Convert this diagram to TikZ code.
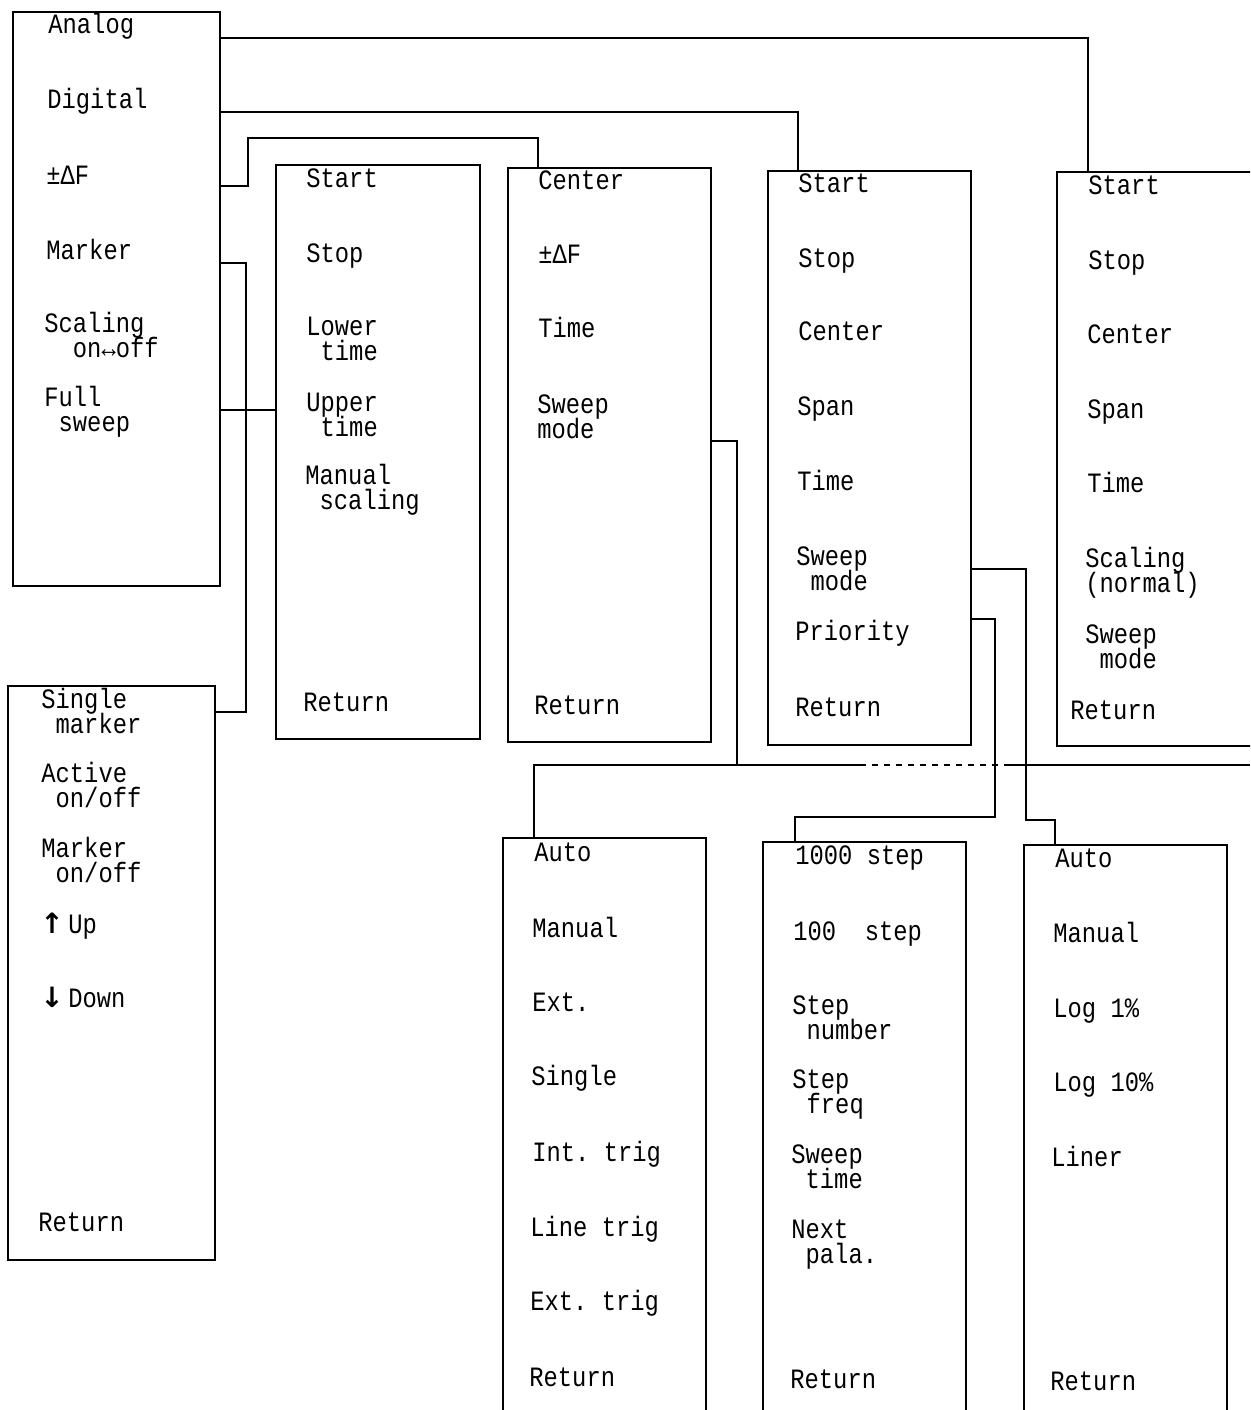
\documentclass[tikz,border=0pt]{standalone}
\usepackage{fontspec}
\setmainfont[FakeStretch=0.85]{Liberation Mono}
\newfontfamily\arrowfont{DejaVu Sans}
\usetikzlibrary{positioning}
\frenchspacing
\newcommand\ind{\hphantom{x}}
\newcommand\itemfont{\fontsize{14}{12.5}\selectfont\lineskiplimit=-20pt}
\tikzset{
  menu/.style={
    draw,
    line width=.6pt,
    inner sep=0pt,
    outer sep=0pt,
    anchor=north west,
    minimum width=101.5pt,
    minimum height=287pt
  },
  item/.style={
    anchor=base west,
    inner sep=0pt,
    align=left,
    font=\itemfont
  },
  twoline/.style={
    item,
    yshift=-12.5pt
  },
  link/.style={
    line width=.6pt
  }
}

\begin{document}
\begin{tikzpicture}[x=0.5pt,y=-0.5pt]
\useasboundingbox (0,0) rectangle (1250,1410);
\clip (0,0) rectangle (1250,1410);

% menu boxes
\node[menu, minimum width=103.5pt] (m1) at (13,12) {};
\node[menu, minimum width=103.5pt] (ms) at (8,686) {};
\node[menu, minimum width=102pt] (m2) at (276,165) {};
\node[menu] (m3) at (508,168) {};
\node[menu] (m4) at (768,171) {};
\node[menu, minimum width=150pt] (m5) at (1057,172) {};
\node[menu, minimum height=320pt] (m6) at (503,838) {};
\node[menu, minimum height=320pt] (m7) at (763,842) {};
\node[menu, minimum height=320pt] (m8) at (1024,845) {};

% main menu
\node[item] (a1) at (48,33) {Analog};
\node[item] (a2) at (47,108) {Digital};
\node[item] (a3) at (46,184) {±ΔF};
\node[item] (a4) at (46,259) {Marker};
\node[twoline] (a5) at (44,332) {Scaling\\\ind\ind on↔off};
\node[twoline] (a6) at (44,406) {Full\\\ind sweep};

% marker menu
\node[twoline] (s1) at (41,708) {Single\\\ind marker};
\node[twoline] (s2) at (41,782) {Active\\\ind on/off};
\node[twoline] (s3) at (41,857) {Marker\\\ind on/off};
\node[item] (s4) at (40,933) {\makebox[14pt][l]{\arrowfont\bfseries ↑}Up};
\node[item] (s5) at (40,1007) {\makebox[14pt][l]{\arrowfont\bfseries ↓}Down};
\node[item] (s6) at (38,1231) {Return};

% full sweep menu
\node[item] (b1) at (306,187) {Start};
\node[item] (b2) at (306,262) {Stop};
\node[twoline] (b3) at (306,335) {Lower\\\ind time};
\node[twoline] (b4) at (306,411) {Upper\\\ind time};
\node[twoline] (b5) at (305,484) {Manual\\\ind scaling};
\node[item] (b6) at (303,711) {Return};

% delta F menu
\node[item] (c1) at (538,189) {Center};
\node[item] (c2) at (538,263) {±ΔF};
\node[item] (c3) at (538,337) {Time};
\node[twoline] (c4) at (537,413) {Sweep\\mode};
\node[item] (c5) at (534,714) {Return};

% digital menu
\node[item] (d1) at (798,192) {Start};
\node[item] (d2) at (798,267) {Stop};
\node[item] (d3) at (798,340) {Center};
\node[item] (d4) at (797,415) {Span};
\node[item] (d5) at (797,490) {Time};
\node[twoline] (d6) at (796,565) {Sweep\\\ind mode};
\node[item] (d7) at (795,640) {Priority};
\node[item] (d8) at (795,716) {Return};

% analog menu
\node[item] (e1) at (1088,194) {Start};
\node[item] (e2) at (1088,269) {Stop};
\node[item] (e3) at (1087,343) {Center};
\node[item] (e4) at (1087,418) {Span};
\node[item] (e5) at (1087,492) {Time};
\node[twoline] (e6) at (1085,567) {Scaling\\(normal)};
\node[twoline] (e7) at (1085,643) {Sweep\\\ind mode};
\node[item] (e8) at (1070,719) {Return};

% sweep mode menu
\node[item] (f1) at (534,861) {Auto};
\node[item] (f2) at (532,937) {Manual};
\node[item] (f3) at (532,1011) {Ext.};
\node[item] (f4) at (531,1085) {Single};
\node[item] (f5) at (532,1161) {Int. trig};
\node[item] (f6) at (530,1236) {Line trig};
\node[item] (f7) at (530,1310) {Ext. trig};
\node[item] (f8) at (529,1386) {Return};

% priority menu
\node[item] (g1) at (795,864) {1000 step};
\node[item] (g2) at (793,940) {100~~step};
\node[twoline] (g3) at (792,1014) {Step\\\ind number};
\node[twoline] (g4) at (792,1088) {Step\\\ind freq};
\node[twoline] (g5) at (791,1163) {Sweep\\\ind time};
\node[twoline] (g6) at (791,1238) {Next\\\ind pala.};
\node[item] (g7) at (790,1388) {Return};

% digital sweep mode menu
\node[item] (h1) at (1055,867) {Auto};
\node[item] (h2) at (1053,942) {Manual};
\node[item] (h3) at (1053,1017) {Log 1\%};
\node[item] (h4) at (1053,1091) {Log 10\%};
\node[item] (h5) at (1051,1166) {Liner};
\node[item] (h6) at (1050,1390) {Return};

% connections
\draw[link] (m1.east |- 0,38) -| (m5.north -| e1.west);
\draw[link] (m1.east |- 0,112) -| (m4.north -| d1.west);
\draw[link] (m1.east |- 0,186) -| (248,138) -| (m3.north -| c1.west);
\draw[link] (m1.east |- 0,263) -| (246,712) -- (ms.east |- 0,712);
\draw[link] (m1.east |- 0,410) -- (m2.west |- 0,410);
\draw[link] (m3.east |- 0,441) -| (737,765);
\draw[link] (m6.north -| f1.west) |- (860,765);
\draw[link, dashed] (860,765) -- (1010,765);
\draw[link] (1010,765) -- (1250,765);
\draw[link] (m4.east |- 0,569) -| (1026,820) -| (m8.north -| h1.west);
\draw[link] (m4.east |- 0,619) -| (995,817) -| (m7.north -| g1.west);
\end{tikzpicture}
\end{document}
